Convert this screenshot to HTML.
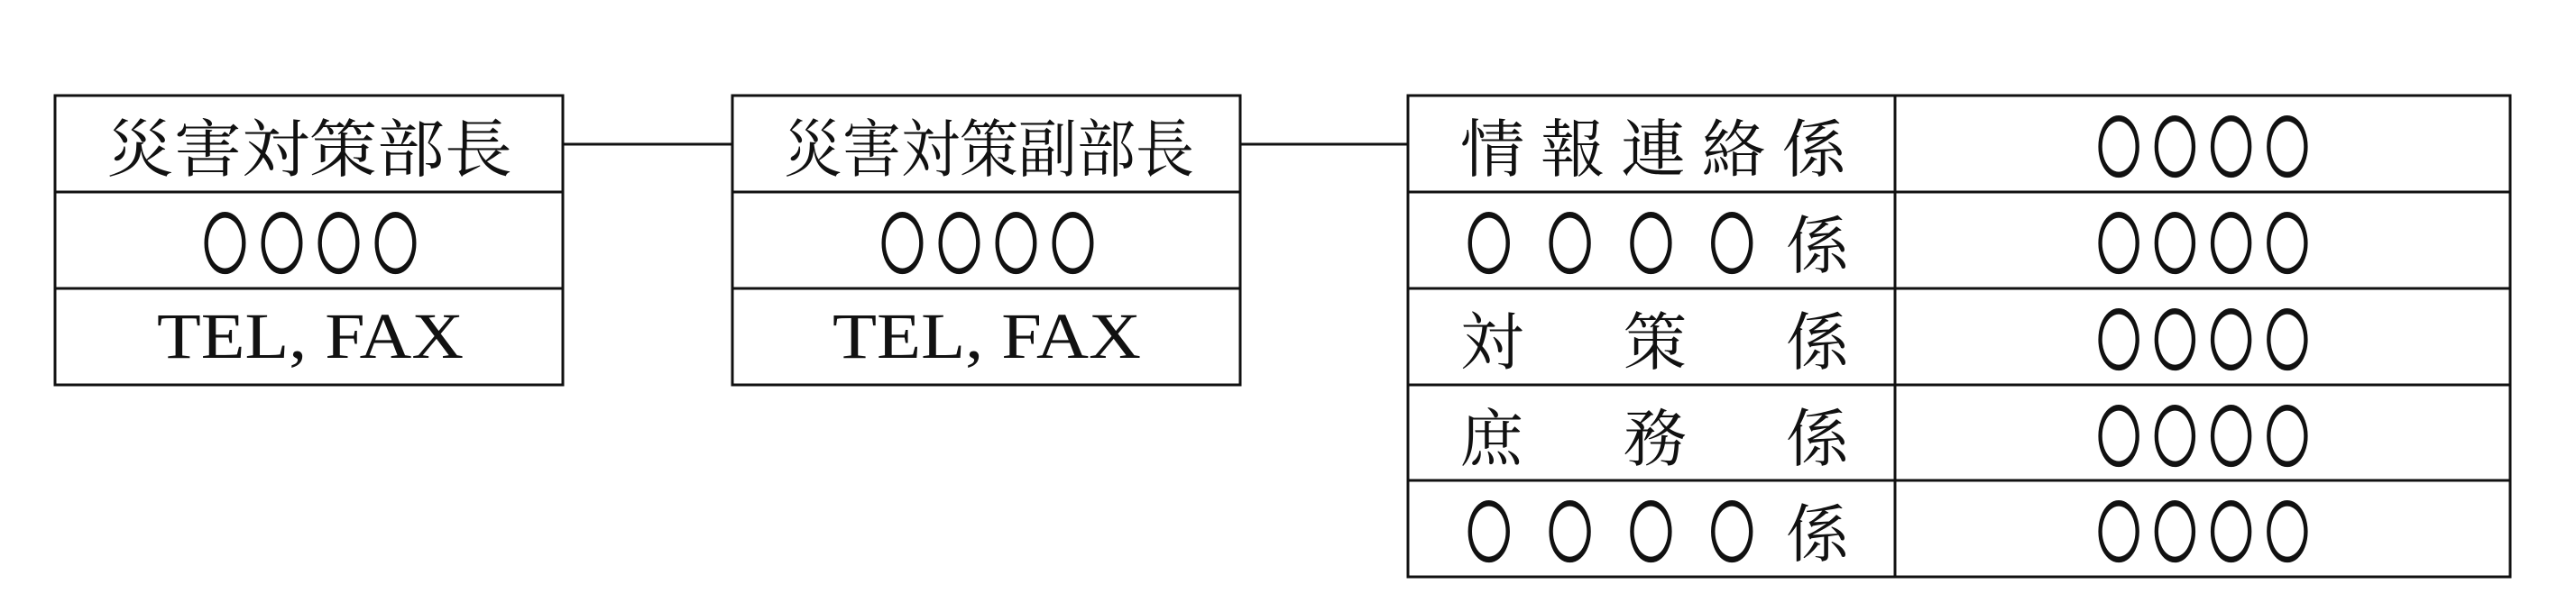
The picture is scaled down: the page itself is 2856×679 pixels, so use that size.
<!DOCTYPE html>
<html><head><meta charset="utf-8"><style>
html,body{margin:0;padding:0;background:#fff;}
svg{display:block;}
.j{font-family:"Liberation Serif","Noto Serif CJK SC","Noto Sans CJK JP",serif;fill:#111;}
.t{font-family:"Liberation Serif",serif;fill:#111;}
</style></head><body>
<svg width="2856" height="679" viewBox="0 0 2856 679" xmlns="http://www.w3.org/2000/svg">
<g stroke="#111" stroke-width="3" fill="none">
<rect x="61" y="106" width="563" height="321"/>
<line x1="61" y1="213" x2="624" y2="213"/>
<line x1="61" y1="320" x2="624" y2="320"/>
<rect x="812" y="106" width="563" height="321"/>
<line x1="812" y1="213" x2="1375" y2="213"/>
<line x1="812" y1="320" x2="1375" y2="320"/>
<line x1="624" y1="160" x2="812" y2="160"/>
<line x1="1375" y1="160" x2="1561" y2="160"/>
<rect x="1561" y="106" width="1222" height="534"/>
<line x1="2101" y1="106" x2="2101" y2="640"/>
<line x1="1561" y1="213" x2="2783" y2="213"/>
<line x1="1561" y1="320" x2="2783" y2="320"/>
<line x1="1561" y1="427" x2="2783" y2="427"/>
<line x1="1561" y1="533" x2="2783" y2="533"/>
</g>
<g font-size="70" class="j">
<text x="118" y="190" textLength="450" lengthAdjust="spacingAndGlyphs">災害対策部長</text>
<text x="869" y="190" textLength="455" lengthAdjust="spacingAndGlyphs">災害対策副部長</text>
<text x="1619" y="190" textLength="428" lengthAdjust="spacingAndGlyphs">情 報 連 絡 係</text>
<text x="1619" y="404">対</text><text x="1800" y="404">策</text><text x="1980" y="404">係</text>
<text x="1619" y="511">庶</text><text x="1800" y="511">務</text><text x="1980" y="511">係</text>
<text x="1980" y="297">係</text><text x="1980" y="617">係</text>
</g>
<g font-size="112" class="j">
<g transform="translate(0,269) scale(1,1.4) translate(0,-273)"><text x="218" y="307" textLength="252" lengthAdjust="spacingAndGlyphs">○○○○</text></g>
<g transform="translate(0,269) scale(1,1.4) translate(0,-273)"><text x="969" y="307" textLength="252" lengthAdjust="spacingAndGlyphs">○○○○</text></g>
<g transform="translate(0,269) scale(1,1.4) translate(0,-273)"><text x="1619" y="307" textLength="333" lengthAdjust="spacingAndGlyphs">○ ○ ○ ○</text></g>
<g transform="translate(0,589) scale(1,1.4) translate(0,-593)"><text x="1619" y="627" textLength="333" lengthAdjust="spacingAndGlyphs">○ ○ ○ ○</text></g>
<g transform="translate(0,162) scale(1,1.4) translate(0,-166)"><text x="2318" y="200" textLength="249" lengthAdjust="spacingAndGlyphs">○○○○</text></g>
<g transform="translate(0,269) scale(1,1.4) translate(0,-273)"><text x="2318" y="307" textLength="249" lengthAdjust="spacingAndGlyphs">○○○○</text></g>
<g transform="translate(0,376) scale(1,1.4) translate(0,-380)"><text x="2318" y="414" textLength="249" lengthAdjust="spacingAndGlyphs">○○○○</text></g>
<g transform="translate(0,483) scale(1,1.4) translate(0,-487)"><text x="2318" y="521" textLength="249" lengthAdjust="spacingAndGlyphs">○○○○</text></g>
<g transform="translate(0,589) scale(1,1.4) translate(0,-593)"><text x="2318" y="627" textLength="249" lengthAdjust="spacingAndGlyphs">○○○○</text></g>
</g>
<g font-size="72" class="t">
<text x="174" y="397" textLength="340" lengthAdjust="spacingAndGlyphs">TEL, FAX</text>
<text x="923" y="397" textLength="342" lengthAdjust="spacingAndGlyphs">TEL, FAX</text>
</g>
</svg>
</body></html>
